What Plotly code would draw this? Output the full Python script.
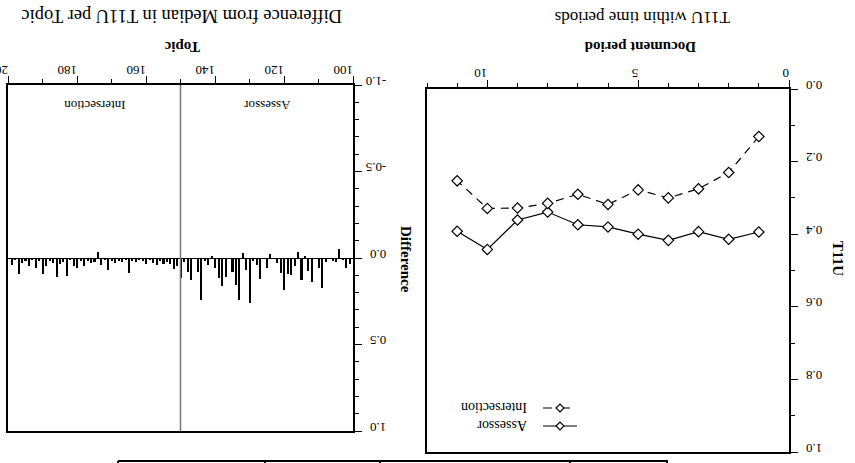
import plotly.graph_objects as go

# ---- data ----
periods = [1, 2, 3, 4, 5, 6, 7, 8, 9, 10, 11]
assessor = [0.394, 0.414, 0.393, 0.417, 0.400, 0.380, 0.374, 0.339, 0.361, 0.442, 0.392]
intersection = [0.131, 0.230, 0.275, 0.300, 0.278, 0.318, 0.290, 0.315, 0.328, 0.329, 0.253]

topics = list(range(101, 201))
diff = [
    0.035, 0.055, 0.010, -0.050, 0.025, 0.015, 0.005, 0.025, 0.175, 0.055,
    0.000, 0.140, 0.078, -0.010, 0.125, -0.033, 0.045, 0.100, 0.095, 0.185,
    0.085, 0.030, 0.000, -0.023, 0.055, 0.005, 0.120, 0.040, 0.020, 0.262,
    0.072, -0.030, 0.245, 0.155, 0.080, 0.000, 0.110, 0.160, 0.117, 0.060,
    -0.010, 0.040, 0.015, 0.243, 0.083, 0.005, 0.130, 0.080, 0.025, 0.115,
    0.045, 0.063, 0.033, 0.025, 0.033, 0.020, 0.040, 0.030, 0.010, 0.033,
    0.020, 0.010, 0.025, 0.020, 0.087, 0.010, 0.025, 0.020, 0.030, 0.015,
    0.070, 0.010, 0.040, -0.033, 0.025, 0.030, 0.015, 0.045, 0.020, 0.058,
    0.048, 0.010, 0.106, 0.025, 0.033, 0.108, 0.030, 0.015, 0.048, 0.095,
    0.020, 0.060, 0.010, 0.045, 0.015, 0.030, 0.092, 0.010, 0.040, 0.005,
]
group_split = 150
group_labels = ["Assessor", "Intersection"]

diff_ticks = [-1.0, -0.5, 0.0, 0.5, 1.0]
diff_ticktext = ["-1.0", "-0.5", "0.0", "0.5", "1.0"]
t11u_ticks = [0.0, 0.2, 0.4, 0.6, 0.8, 1.0]
t11u_ticktext = ["0.0", "0.2", "0.4", "0.6", "0.8", "1.0"]

W, H = 855, 463
FONT = "Liberation Serif"

def px(xp):
    return xp / W

def py(yp):
    return 1 - yp / H

fig = go.Figure()

# right panel in picture: T11U within time periods
fig.add_trace(go.Scatter(
    x=periods, y=assessor, mode="lines+markers", xaxis="x2", yaxis="y2",
    line=dict(color="black", width=1.2),
    marker=dict(symbol="diamond", size=8, color="white", line=dict(color="black", width=1.2)),
    showlegend=False))
fig.add_trace(go.Scatter(
    x=periods, y=intersection, mode="lines+markers", xaxis="x2", yaxis="y2",
    line=dict(color="black", width=1.2, dash="8px,6px"),
    marker=dict(symbol="diamond", size=8, color="white", line=dict(color="black", width=1.2)),
    showlegend=False))

# left panel in picture: difference per topic
fig.add_trace(go.Bar(
    x=topics, y=diff, xaxis="x", yaxis="y", width=0.45,
    marker=dict(color="black", line=dict(width=0)), showlegend=False))

tickfont = dict(family=FONT, size=13, color="black")
common = dict(showgrid=False, showline=True, linecolor="black", linewidth=1.5,
              mirror=True, ticks="outside", tickcolor="black", tickwidth=1.2,
              tickfont=tickfont, tickangle=180, automargin=False,
              ticklabeloverflow="allow")

fig.update_layout(
    width=W, height=H, margin=dict(l=0, r=0, t=0, b=0),
    plot_bgcolor="white", paper_bgcolor="white",
    font=dict(family=FONT, color="black"),
    bargap=0,
    xaxis=dict(domain=[px(8), px(353)], range=[200, 100], side="top",
               dtick=20, tick0=100, ticklen=7, ticklabelstandoff=-8,
               minor=dict(dtick=10, ticklen=4, ticks="outside", tickcolor="black"),
               anchor="y", **common),
    yaxis=dict(domain=[py(431), py(85)], range=[1.0, -1.0], side="right",
               tickvals=diff_ticks, ticktext=diff_ticktext, ticklen=7, ticklabelstandoff=22,
               minor=dict(dtick=0.1, ticklen=4, ticks="outside", tickcolor="black"),
               zeroline=True, zerolinecolor="black", zerolinewidth=1,
               anchor="x", **common),
    xaxis2=dict(domain=[px(427), px(789)], range=[12, 0], side="top",
                dtick=5, tick0=0, ticklen=7, ticklabelstandoff=-7,
                minor=dict(dtick=1, ticklen=4, ticks="outside", tickcolor="black"),
                anchor="y2", **common),
    yaxis2=dict(domain=[py(452), py(89)], range=[1.0, 0.0], side="right",
                tickvals=t11u_ticks, ticktext=t11u_ticktext, ticklen=7, ticklabelstandoff=22,
                minor=dict(dtick=0.1, ticklen=4, ticks="outside", tickcolor="black"),
                zeroline=False, anchor="x2", **common),
)

# divider between groups
fig.add_shape(type="line", xref="x", yref="y domain", x0=group_split, x1=group_split,
              y0=0, y1=1, line=dict(color="#777777", width=1.5))

ann = []
def text(x, y, s, size=13, bold=False, angle=180, xref="paper", yref="paper", xanchor="center"):
    if bold:
        s = "<b>" + s + "</b>"
    ann.append(dict(x=x, y=y, xref=xref, yref=yref, text=s, showarrow=False,
                    textangle=angle, font=dict(family=FONT, size=size, color="black"),
                    xanchor=xanchor, yanchor="middle"))

text(px(182), py(16), "Difference from Median in T11U per Topic", size=18.5)
text(px(182), py(47), "Topic", size=15, bold=True)
text(px(406), py(259), "Difference", size=15, bold=True, angle=90)
text((100 + group_split) / 2, -0.885, group_labels[0], xref="x", yref="y")
text((group_split + 200) / 2, -0.885, group_labels[1], xref="x", yref="y")

text(px(642), py(17), "T11U within time periods", size=17)
text(px(640), py(47), "Document period", size=15, bold=True)
text(px(838), py(258), "T11U", size=15, bold=True, angle=90)

# legend (drawn upside down like the rest of the picture)
text(px(529), py(408), "Intersection", size=14, xanchor="right")
text(px(529), py(426), "Assessor", size=14, xanchor="right")
fig.update_layout(annotations=ann)

for yy, dash in [(426, "solid"), (408, "dash")]:
    fig.add_shape(type="line", xref="paper", yref="paper", x0=px(543), x1=px(577),
                  y0=py(yy), y1=py(yy), line=dict(color="black", width=1.2, dash=dash))
    cx, cy = 560, yy
    path = f"M {px(cx-4)},{py(cy)} L {px(cx)},{py(cy-4)} L {px(cx+4)},{py(cy)} L {px(cx)},{py(cy+4)} Z"
    fig.add_shape(type="path", xref="paper", yref="paper", path=path,
                  fillcolor="white", line=dict(color="black", width=1.2))

# cut-off table rule at the bottom
fig.add_shape(type="line", xref="paper", yref="paper", x0=px(118), x1=px(668),
              y0=py(461), y1=py(461), line=dict(color="black", width=2))
for xv in [118, 265, 380, 570, 667]:
    fig.add_shape(type="line", xref="paper", yref="paper", x0=px(xv), x1=px(xv),
                  y0=py(461), y1=0, line=dict(color="black", width=2))

fig.write_html("out.html", config={"displayModeBar": False},
               post_script="document.body.style.margin='0';document.body.style.overflow='hidden';")
